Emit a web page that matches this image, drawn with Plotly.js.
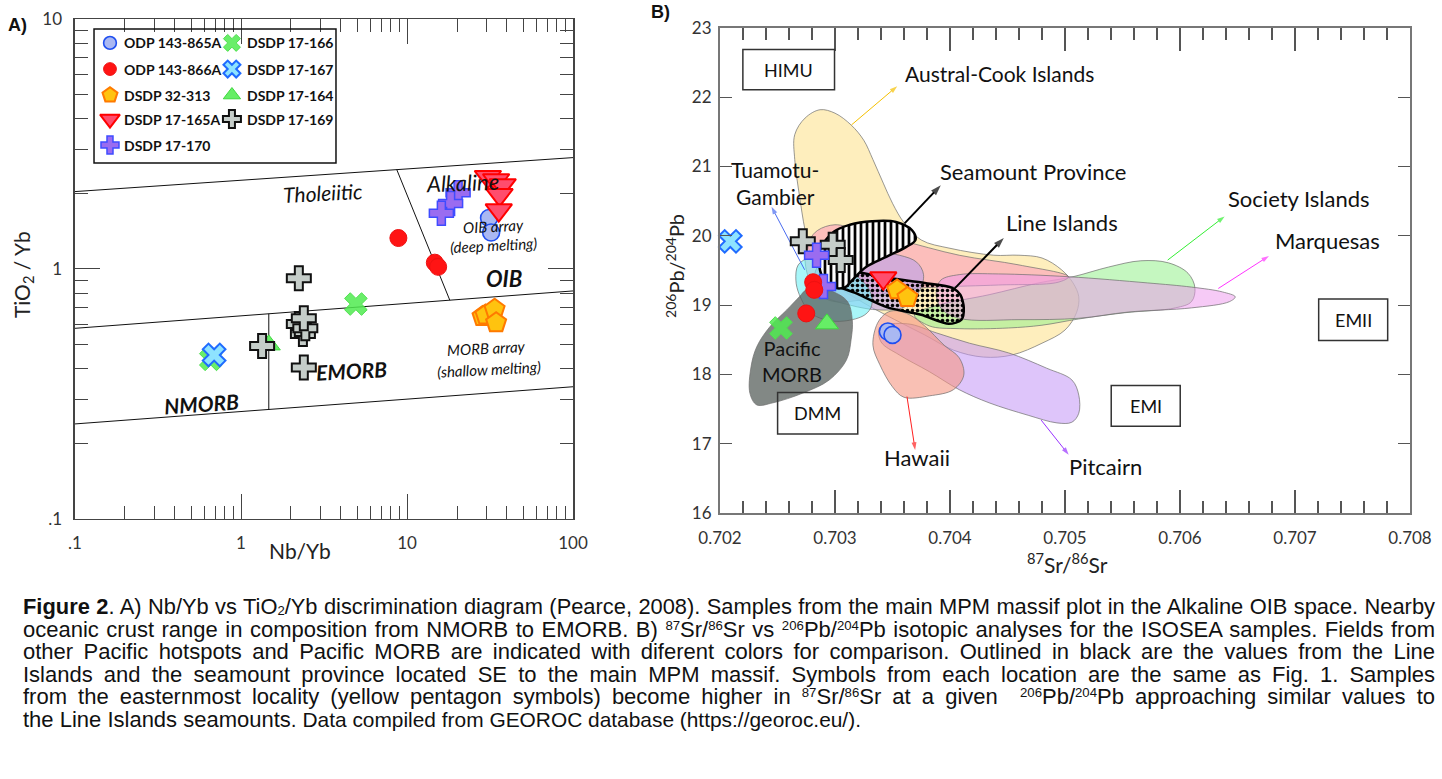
<!DOCTYPE html>
<html><head><meta charset="utf-8">
<script src="https://cdn.plot.ly/plotly-3.0.1.min.js"></script>
<style>
body{margin:0;width:1442px;height:779px;overflow:hidden;background:#fff;}
#plot{position:absolute;left:0;top:0;width:1442px;height:779px;}
#cap{position:absolute;left:23px;top:596px;width:1412px;font-family:"Liberation Sans",Arial,sans-serif;font-size:22px;color:#111;}
.ln{height:22.6px;line-height:22.6px;white-space:nowrap;text-align:justify;text-align-last:justify;}
.last{text-align-last:left;}
sup{font-size:0.6em;vertical-align:0.55em;line-height:0;}
sub{font-size:0.6em;vertical-align:-0.1em;line-height:0;}
.small{font-size:0.95em;}
</style></head><body>
<div id="plot"></div>
<div id="cap">
<div class="ln"><b>Figure 2</b>. A) Nb/Yb vs TiO<sub>2</sub>/Yb discrimination diagram (Pearce, 2008). Samples from the main MPM massif plot in the Alkaline OIB space. Nearby</div>
<div class="ln">oceanic crust range in composition from NMORB to EMORB. B) <sup>87</sup>Sr/<sup>86</sup>Sr vs <sup>206</sup>Pb/<sup>204</sup>Pb isotopic analyses for the ISOSEA samples. Fields from</div>
<div class="ln">other Pacific hotspots and Pacific MORB are indicated with diferent colors for comparison. Outlined in black are the values from the Line</div>
<div class="ln">Islands and the seamount province located SE to the main MPM massif. Symbols from each location are the same as Fig. 1. Samples</div>
<div class="ln">from the easternmost locality (yellow pentagon symbols) become higher in <sup>87</sup>Sr/<sup>86</sup>Sr at a given &nbsp;<sup>206</sup>Pb/<sup>204</sup>Pb approaching similar values to</div>
<div class="ln last">the Line Islands seamounts<span class="small">. Data compiled from GEOROC database (https://georoc.eu/).</span></div>
</div>
<script>
// ---------------- DATA: panel A (Nb/Yb vs TiO2/Yb) ----------------
const A_upperX=[0.1,100], A_upperY=[2.04,2.79];
const A_midX=[0.1,100],   A_midY=[0.579,0.817];
const A_lowX=[0.1,100],   A_lowY=[0.240,0.338];
const A_diagX=[8.67,18.1], A_diagY=[2.50,0.750];
const A_vertX=[1.47,1.47], A_vertY=[0.662,0.274];

const A_865A_x=[31.2,32.1], A_865A_y=[1.60,1.40];
const A_866A_x=[8.87,14.7,15.4], A_866A_y=[1.33,1.06,1.02];
const A_313_x=[28.5,29.7,33.7,34.4], A_313_y=[0.645,0.655,0.690,0.610];
const A_165A_x=[30.7,34.4,37.7,36.1,35.7], A_165A_y=[2.34,2.27,2.17,1.98,1.72];
const A_170_x=[20.3,18.3,16.1], A_170_y=[2.02,1.83,1.67];
const A_166_x=[4.92,0.658], A_166_y=[0.724,0.435];
const A_167_x=[0.689], A_167_y=[0.453];
const A_164_x=[1.47], A_164_y=[0.497];
const A_169_x=[2.23,2.36,2.23,2.44,2.39,1.34,2.39], A_169_y=[0.918,0.55,0.603,0.579,0.635,0.492,0.404];

// ---------------- DATA: panel B (87Sr/86Sr vs 206Pb/204Pb) ----------------
const B_865A_sr=[0.70346,0.70350], B_865A_pb=[18.62,18.57];
const B_866A_sr=[0.70281,0.70282,0.70275], B_866A_pb=[19.33,19.22,18.88];
const B_313_sr=[0.70354,0.70363], B_313_pb=[19.22,19.11];
const B_165A_sr=[0.70342], B_165A_pb=[19.39];
const B_170_sr=[0.70284,0.70290], B_170_pb=[19.72,19.27];
const B_166_sr=[0.70253], B_166_pb=[18.67];
const B_167_sr=[0.70209], B_167_pb=[19.92];
const B_164_sr=[0.70293], B_164_pb=[18.73];
const B_169_sr=[0.70272,0.70298,0.70305], B_169_pb=[19.92,19.87,19.65];

// field outlines
const austral_sr=[0.70287,0.70300,0.70314,0.70325,0.70333,0.70342,0.70350,0.70360,0.70375,0.70400,0.70438,0.70460,0.70480,0.70497,0.70507,0.70512,0.70510,0.70500,0.70480,0.70454,0.70429,0.70403,0.70378,0.70352,0.70321,0.70295,0.70280,0.70274,0.70269,0.70265,0.70265,0.70274];
const austral_pb=[21.82,21.77,21.60,21.38,21.10,20.76,20.47,20.19,19.94,19.82,19.72,19.72,19.68,19.51,19.32,19.12,18.89,18.64,18.45,18.28,18.25,18.35,18.57,18.79,19.07,19.36,19.68,20.08,20.59,21.10,21.46,21.70];
const society_sr=[0.70369,0.70390,0.70434,0.70477,0.70507,0.70538,0.70566,0.70590,0.70607,0.70613,0.70610,0.70596,0.70552,0.70512,0.70480,0.70451,0.70408,0.70382];
const society_pb=[18.86,19.00,19.15,19.32,19.41,19.55,19.64,19.61,19.46,19.25,19.05,18.96,18.89,18.80,18.71,18.67,18.66,18.70];
const marq_sr=[0.70392,0.70408,0.70442,0.70503,0.70572,0.70610,0.70637,0.70648,0.70643,0.70610,0.70555,0.70512,0.70460,0.70408,0.70392,0.70388];
const marq_pb=[19.36,19.44,19.45,19.41,19.32,19.26,19.19,19.12,19.05,18.96,18.90,18.81,18.79,18.81,18.96,19.18];
const pink_sr=[0.70278,0.70285,0.70300,0.70321,0.70356,0.70408,0.70460,0.70503,0.70494,0.70442,0.70390,0.70356,0.70321,0.70295,0.70280,0.70274];
const pink_pb=[19.94,20.08,20.16,20.08,19.94,19.72,19.58,19.41,19.33,19.29,19.26,19.22,19.07,19.07,19.29,19.65];
const lav_sr=[0.70300,0.70330,0.70356,0.70371,0.70377,0.70373,0.70360,0.70339,0.70313,0.70291,0.70282,0.70287];
const lav_pb=[19.72,19.77,19.72,19.62,19.44,19.19,18.97,18.93,19.00,19.13,19.36,19.61];
const pitc_sr=[0.70339,0.70363,0.70388,0.70417,0.70451,0.70484,0.70506,0.70512,0.70512,0.70506,0.70493,0.70468,0.70434,0.70408,0.70382,0.70356,0.70340];
const pitc_pb=[18.68,18.73,18.60,18.45,18.31,18.09,17.92,17.70,17.44,17.31,17.30,17.41,17.59,17.78,18.04,18.28,18.47];
const hawaii_sr=[0.70337,0.70345,0.70353,0.70365,0.70378,0.70395,0.70408,0.70412,0.70403,0.70382,0.70360,0.70350,0.70339,0.70333];
const hawaii_pb=[18.74,18.89,18.92,18.86,18.70,18.42,18.24,17.99,17.78,17.69,17.67,17.82,18.14,18.42];
const tuam_sr=[0.70268,0.70278,0.70295,0.70317,0.70330,0.70332,0.70326,0.70308,0.70291,0.70278,0.70269,0.70266];
const tuam_pb=[19.58,19.68,19.62,19.44,19.22,19.00,18.86,18.77,18.79,18.90,19.15,19.36];
const morb_sr=[0.70275,0.70287,0.70310,0.70315,0.70314,0.70310,0.70295,0.70272,0.70246,0.70232,0.70226,0.70227,0.70232,0.70243,0.70258,0.70269];
const morb_pb=[19.22,19.25,19.07,18.79,18.50,18.21,17.92,17.73,17.59,17.56,17.73,18.11,18.40,18.68,18.93,19.12];
const line_sr=[0.70295,0.70318,0.70347,0.70378,0.70402,0.70409,0.70412,0.70410,0.70399,0.70375,0.70345,0.70317,0.70295,0.70288];
const line_pb=[19.54,19.48,19.39,19.32,19.25,19.15,18.96,18.79,18.73,18.86,18.97,19.18,19.32,19.44];
const seam_sr=[0.70287,0.70299,0.70313,0.70332,0.70353,0.70367,0.70370,0.70362,0.70345,0.70327,0.70315,0.70309,0.70298,0.70289,0.70286];
const seam_pb=[19.80,20.06,20.16,20.21,20.20,20.08,19.94,19.84,19.70,19.55,19.36,19.26,19.26,19.41,19.62];

// reservoir boxes
const boxNames=['HIMU','DMM','EMI','EMII'];
const boxSr0=[0.702199,0.702501,0.705402,0.707206], boxSr1=[0.702996,0.703198,0.706002,0.707806];
const boxPb0=[22.11,17.14,17.25,18.49], boxPb1=[22.69,17.74,17.84,19.09];
const boxLabSr=[0.702600,0.702850,0.705702,0.707506], boxLabPb=[22.40,17.44,17.54,18.79];

// field labels and pointer arrows (tail -> head)
const fieldLab=['Austral-Cook Islands','Tuamotu-<br>Gambier','Seamount Province','Line Islands','Society Islands','Marquesas','Pacific<br>MORB','Hawaii','Pitcairn'];
const fieldLabSr=[0.704430,0.70248,0.704718,0.704970,0.707039,0.707286,0.702628,0.703710,0.705355];
const fieldLabPb=[22.35,20.76,20.93,20.19,20.54,19.93,18.19,16.80,16.67];
const arrHeadSr=[0.703541,0.702448,0.703920,0.704468,0.706388,0.706774,null,0.703697,0.705032];
const arrHeadPb=[22.16,20.42,20.73,19.97,20.28,19.71,null,16.91,16.84];
const arrTailSr=[0.703143,0.702736,0.703605,0.704035,0.705893,0.706333,null,0.703626,0.704793];
const arrTailPb=[21.60,19.51,20.18,19.23,19.65,19.24,null,17.68,17.34];

// legend entries
const legNames=['ODP 143-865A','DSDP 17-166','ODP 143-866A','DSDP 17-167','DSDP 32-313','DSDP 17-164','DSDP 17-165A','DSDP 17-169','DSDP 17-170'];
const legKeys=['865A','166','866A','167','313','164','165A','169','170'];

// ---------------- STYLES ----------------
const FONT='Lato, "Open Sans", sans-serif';
const ST={
 '865A':{symbol:'circle',size:17,color:'#aab8f2',line:{color:'#1f4ef0',width:1.6}},
 '866A':{symbol:'circle',size:17,color:'#ff1414',line:{color:'#ee1111',width:1}},
 '313':{symbol:'pentagon',size:21,color:'#ffc30f',line:{color:'#ff7a00',width:2}},
 '165A':{symbol:'triangle-down',size:23,color:'#ff4d6d',line:{color:'#ff0000',width:2}},
 '170':{symbol:'cross',size:20,color:'#9a6cf0',line:{color:'#3f4cff',width:1.5}},
 '166':{symbol:'x',size:20,color:'rgba(80,235,80,0.85)',line:{color:'#4ee04e',width:1}},
 '167':{symbol:'x',size:20,color:'#8ee3ff',line:{color:'#1f6bff',width:2}},
 '164':{symbol:'triangle-up',size:20,color:'#66ee66',line:{color:'#3fd83f',width:1}},
 '169':{symbol:'cross',size:20,color:'#c5cdc9',line:{color:'#111111',width:2}}
};
function mk(key,scale){const s=ST[key];return {symbol:s.symbol,size:s.size*(scale||1),color:s.color,line:{color:s.line.color,width:s.line.width}};}

const traces=[];
[[A_upperX,A_upperY],[A_midX,A_midY],[A_lowX,A_lowY],[A_diagX,A_diagY],[A_vertX,A_vertY]].forEach(p=>{
 traces.push({type:'scatter',mode:'lines',x:p[0],y:p[1],xaxis:'x',yaxis:'y',line:{color:'#111',width:1},hoverinfo:'skip'});
});
const Aseries={'166':[A_166_x,A_166_y],'164':[A_164_x,A_164_y],'167':[A_167_x,A_167_y],'169':[A_169_x,A_169_y],'313':[A_313_x,A_313_y],'866A':[A_866A_x,A_866A_y],'865A':[A_865A_x,A_865A_y],'165A':[A_165A_x,A_165A_y],'170':[A_170_x,A_170_y]};
['166','164','167','169','313','866A','865A','165A','170'].forEach(k=>{
 traces.push({type:'scatter',mode:'markers',x:Aseries[k][0],y:Aseries[k][1],xaxis:'x',yaxis:'y',marker:mk(k),cliponaxis:false});
});

function closed(a){return a.concat([a[0]]);}
const EDGE='rgba(110,110,110,0.7)';
const fields=[
 [austral_sr,austral_pb,'rgba(253,228,148,0.62)'],
 [society_sr,society_pb,'rgba(150,240,140,0.55)'],
 [pink_sr,pink_pb,'rgba(250,160,185,0.62)'],
 [marq_sr,marq_pb,'rgba(238,150,238,0.5)'],
 [pitc_sr,pitc_pb,'rgba(195,150,245,0.55)'],
 [hawaii_sr,hawaii_pb,'rgba(245,150,130,0.6)'],
 [lav_sr,lav_pb,'rgba(185,160,235,0.6)'],
 [tuam_sr,tuam_pb,'rgba(110,240,245,0.6)'],
 [morb_sr,morb_pb,'rgba(88,96,92,0.75)']
];
fields.forEach(f=>{
 traces.push({type:'scatter',mode:'lines',x:closed(f[0]),y:closed(f[1]),xaxis:'x2',yaxis:'y2',fill:'toself',fillcolor:f[2],line:{color:EDGE,width:1,shape:'spline',smoothing:1},hoverinfo:'skip'});
});
traces.push({type:'scatter',mode:'lines',x:closed(line_sr),y:closed(line_pb),xaxis:'x2',yaxis:'y2',fill:'toself',fillcolor:'rgba(0,0,0,0)',
 fillpattern:{shape:'.',fgcolor:'#000',bgcolor:'rgba(0,0,0,0)',size:5,solidity:0.4},line:{color:'#000',width:2.5,shape:'spline',smoothing:0.8},hoverinfo:'skip'});
traces.push({type:'scatter',mode:'lines',x:closed(seam_sr),y:closed(seam_pb),xaxis:'x2',yaxis:'y2',fill:'toself',fillcolor:'#fff',
 fillpattern:{shape:'|',fgcolor:'#000',bgcolor:'#fff',size:6,solidity:0.45},line:{color:'#000',width:2.5,shape:'spline',smoothing:1},hoverinfo:'skip'});

// pointer arrows (line + arrow-head marker oriented along the segment)
const arrCols=['#f5c000','#4a6cf0','#000','#000','#33ee33','#ff33ff',null,'#ff2020','#9933ff'];
arrHeadSr.forEach((h,i)=>{
 if(h===null) return;
 const black=arrCols[i]==='#000';
 traces.push({type:'scatter',mode:'lines+markers',x:[arrTailSr[i],h],y:[arrTailPb[i],arrHeadPb[i]],xaxis:'x2',yaxis:'y2',
  line:{color:arrCols[i],width:black?2:1},marker:{symbol:'arrow',angleref:'previous',size:[0,black?11:8],color:arrCols[i],line:{width:0}},hoverinfo:'skip',cliponaxis:false});
});

const Bseries={'169':[B_169_sr,B_169_pb],'170':[B_170_sr,B_170_pb],'866A':[B_866A_sr,B_866A_pb],'166':[B_166_sr,B_166_pb],'164':[B_164_sr,B_164_pb],'167':[B_167_sr,B_167_pb],'165A':[B_165A_sr,B_165A_pb],'313':[B_313_sr,B_313_pb],'865A':[B_865A_sr,B_865A_pb]};
['169','170','866A','166','164','167','165A','313','865A'].forEach(k=>{
 traces.push({type:'scatter',mode:'markers',x:Bseries[k][0],y:Bseries[k][1],xaxis:'x2',yaxis:'y2',marker:mk(k),cliponaxis:false});
});

const legColX=[0.066,0.570], legTextX=[0.116,0.624], legRowY=[0.896,0.701,0.507,0.328,0.134];
const annotations=[];
legKeys.forEach((k,i)=>{
 const r=Math.floor(i/2), c=i%2;
 traces.push({type:'scatter',mode:'markers',x:[legColX[c]],y:[legRowY[r]],xaxis:'x3',yaxis:'y3',marker:mk(k,0.75),cliponaxis:false});
 annotations.push({xref:'x3',yref:'y3',x:legTextX[c],y:legRowY[r],xanchor:'left',yanchor:'middle',showarrow:false,text:'<b>'+legNames[i]+'</b>',font:{family:FONT,size:14,color:'#111'}});
});

const L=Math.log10;
const aText=[
 ['Tholeiitic',3.12,2.03,'<i>',21,-3],['Alkaline',21.6,2.21,'<i>',22,-2],
 ['OIB array',33.1,1.49,'<i>',15,-3],['(deep melting)',33.3,1.25,'<i>',15,-3],
 ['OIB',38.5,0.92,'<b><i>',22,0],['MORB array',30.0,0.483,'<i>',15,-3],
 ['(shallow melting)',31.3,0.398,'<i>',15,-3],['NMORB',0.578,0.291,'<b><i>',21,-4],['EMORB',4.65,0.394,'<b><i>',21,-3]
];
aText.forEach(t=>{
 const close=t[3]==='<i>'?'</i>':'</i></b>';
 annotations.push({xref:'x',yref:'y',x:L(t[1]),y:L(t[2]),xanchor:'center',yanchor:'middle',text:t[3]+t[0]+close,showarrow:false,textangle:t[5],font:{family:FONT,size:t[4],color:'#111'}});
});
fieldLab.forEach((t,i)=>{
 annotations.push({xref:'x2',yref:'y2',x:fieldLabSr[i],y:fieldLabPb[i],xanchor:'center',yanchor:'middle',text:t,showarrow:false,font:{family:FONT,size:(i===6?20:(i===1?21:(i===0?21:22))),color:'#111'}});
});
boxNames.forEach((t,i)=>{
 annotations.push({xref:'x2',yref:'y2',x:boxLabSr[i],y:boxLabPb[i],xanchor:'center',yanchor:'middle',text:t,showarrow:false,font:{family:FONT,size:18,color:'#111'}});
});
const P=(o)=>Object.assign({xref:'paper',yref:'paper',xanchor:'center',yanchor:'middle',showarrow:false},o);
annotations.push(P({x:0.0118,y:0.968,text:'<b>A)</b>',font:{family:'"Liberation Sans",Arial,sans-serif',size:18,color:'#111'}}));
annotations.push(P({x:0.4577,y:0.9846,text:'<b>B)</b>',font:{family:'"Liberation Sans",Arial,sans-serif',size:18,color:'#111'}}));
annotations.push(P({x:0.0160,y:0.647,text:'TiO<sub>2</sub> / Yb',textangle:-90,font:{family:FONT,size:21,color:'#222'}}));
annotations.push(P({x:0.2080,y:0.2927,text:'Nb/Yb',font:{family:FONT,size:21,color:'#222'}}));
annotations.push(P({x:0.4680,y:0.6585,text:'<sup>206</sup>Pb/<sup>204</sup>Pb',textangle:-90,font:{family:FONT,size:20,color:'#222'}}));
annotations.push(P({x:0.7406,y:0.2773,text:'<sup>87</sup>Sr/<sup>86</sup>Sr',font:{family:FONT,size:21,color:'#222'}}));

const shapes=[];
shapes.push({type:'rect',xref:'paper',yref:'paper',x0:0.0652,x1:0.2330,y0:0.7908,y1:0.9628,line:{color:'#111',width:1.5},fillcolor:'rgba(255,255,255,0)'});
boxNames.forEach((t,i)=>{
 shapes.push({type:'rect',xref:'x2',yref:'y2',x0:boxSr0[i],x1:boxSr1[i],y0:boxPb0[i],y1:boxPb1[i],line:{color:'#333',width:1.5}});
});

const minorA=[], minorAy=[];
[0.1,1,10].forEach(d=>{for(let m=2;m<=9;m++){minorA.push(m*d);}});
[0.1,1].forEach(d=>{for(let m=2;m<=9;m++){minorAy.push(m*d);}});
const axA={showgrid:false,zeroline:false,showline:true,linecolor:'#444',linewidth:1.5,mirror:'ticks',ticks:'inside',ticklen:25,tickwidth:1,tickcolor:'#444',
 tickfont:{family:FONT,size:17,color:'#333'},ticklabelstandoff:8};
const layout={
 width:1442,height:779,margin:{l:0,r:0,t:0,b:0},paper_bgcolor:'#fff',plot_bgcolor:'rgba(0,0,0,0)',showlegend:false,
 xaxis:Object.assign({},axA,{type:'log',range:[-1,2],domain:[0.0520,0.3974],anchor:'y',tickmode:'array',tickvals:[0.1,1,10,100],ticktext:['.1','1','10','100'],
   minor:{tickmode:'array',tickvals:minorA,ticks:'inside',ticklen:13,tickcolor:'#444',showgrid:false}}),
 yaxis:Object.assign({},axA,{type:'log',range:[-1,1],domain:[0.3338,0.9756],anchor:'x',tickmode:'array',tickvals:[0.1,1,10],ticktext:['.1','1','10'],
   minor:{tickmode:'array',tickvals:minorAy,ticks:'inside',ticklen:13,tickcolor:'#444',showgrid:false}}),
 xaxis2:{range:[0.702,0.708],domain:[0.4993,0.9778],anchor:'y2',showgrid:false,zeroline:false,showline:true,linecolor:'#777',linewidth:2,mirror:'ticks',
   ticks:'inside',ticklen:23,tickwidth:1.2,tickcolor:'#555',tick0:0.702,dtick:0.001,tickformat:'.3f',tickfont:{family:FONT,size:17,color:'#333'},ticklabelstandoff:9,
   minor:{dtick:0.0002,ticks:'inside',ticklen:12,tickcolor:'#555',showgrid:false}},
 yaxis2:{range:[16,23],domain:[0.3415,0.9641],anchor:'x2',showgrid:false,zeroline:false,showline:true,linecolor:'#777',linewidth:2,mirror:'ticks',
   ticks:'inside',ticklen:12,tickwidth:1.2,tickcolor:'#555',dtick:1,tickfont:{family:FONT,size:17,color:'#333'},ticklabelstandoff:3},
 xaxis3:{range:[0,1],domain:[0.0652,0.2330],anchor:'y3',visible:false,fixedrange:true},
 yaxis3:{range:[0,1],domain:[0.7908,0.9628],anchor:'x3',visible:false,fixedrange:true},
 annotations:annotations,shapes:shapes
};
Plotly.newPlot('plot',traces,layout,{staticPlot:true,displayModeBar:false});

// keep every caption line within the text block width (shrink only if the natural width is too wide)
(function(){
 const cap=document.getElementById('cap'), W=cap.clientWidth;
 cap.querySelectorAll('.ln').forEach(el=>{
  const probe=el.cloneNode(true);
  probe.style.cssText='position:absolute;visibility:hidden;white-space:nowrap;display:inline-block;width:auto;text-align:left;text-align-last:auto;';
  cap.appendChild(probe);
  const w=probe.getBoundingClientRect().width;
  probe.remove();
  if(w>W){ el.style.fontSize=(22*W/w*0.995).toFixed(2)+'px'; }
 });
})();
</script>
</body></html>
